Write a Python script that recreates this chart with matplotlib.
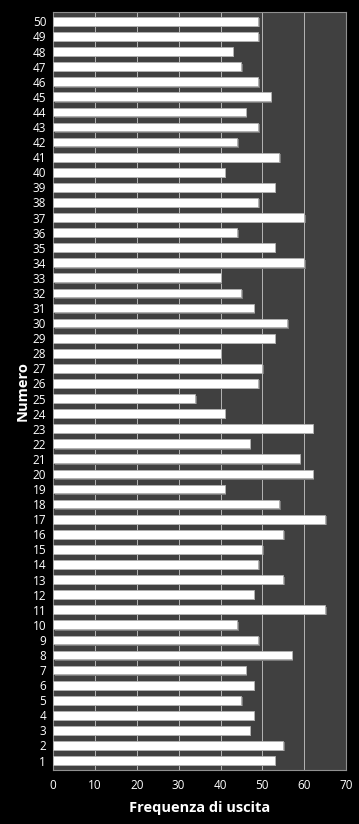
import matplotlib
matplotlib.use("Agg")
import matplotlib.pyplot as plt
import matplotlib.transforms as mtransforms

# estrazioni: numero -> frequenza di uscita
numeri = list(range(1, 51))
frequenze = [53, 55, 47, 48, 45, 48, 46, 57, 49, 44,
             65, 48, 55, 49, 50, 55, 65, 54, 41, 62,
             59, 47, 62, 41, 34, 49, 50, 40, 53, 56,
             48, 45, 40, 60, 53, 44, 60, 49, 53, 41,
             54, 44, 49, 46, 52, 49, 45, 43, 49, 49]
x_ticks = [0, 10, 20, 30, 40, 50, 60, 70]

plt.rcParams["font.family"] = ["Open Sans", "DejaVu Sans"]

fig = plt.figure(figsize=(3.59, 8.24), dpi=100)
fig.patch.set_facecolor("black")
ax = fig.add_axes([0.148, 0.066, 0.816, 0.919])
ax.set_facecolor("#404040")

# ombra leggera sotto le barre
shadow = mtransforms.offset_copy(ax.transData, fig=fig, x=1.0, y=-1.0, units="points")
ax.barh(numeri, frequenze, height=0.58, color="#7a7a7a", edgecolor="none",
        transform=shadow, zorder=2)
ax.barh(numeri, frequenze, height=0.58, color="white", edgecolor="#b0b0b0",
        linewidth=0.6, zorder=3)

ax.set_xlim(0, 70)
ax.set_ylim(0.4, 50.6)
ax.set_xticks(x_ticks)
ax.set_yticks(numeri)
ax.set_yticklabels([str(n) for n in numeri])
ax.xaxis.grid(True, color="#c8c8c8", linewidth=0.6, zorder=1)
ax.set_axisbelow(True)

ax.tick_params(axis="both", colors="white", labelsize=8.5, length=0)
ax.tick_params(axis="y", pad=5)
ax.tick_params(axis="x", pad=7)
for s in ax.spines.values():
    s.set_color("#909090")
    s.set_linewidth(0.8)

ax.set_xlabel("Frequenza di uscita", color="white", fontsize=10.5,
              fontweight="bold", labelpad=6)
ax.set_ylabel("Numero", color="white", fontsize=10.5, fontweight="bold", labelpad=2)

fig.savefig("out.png", dpi=100, facecolor="black")
